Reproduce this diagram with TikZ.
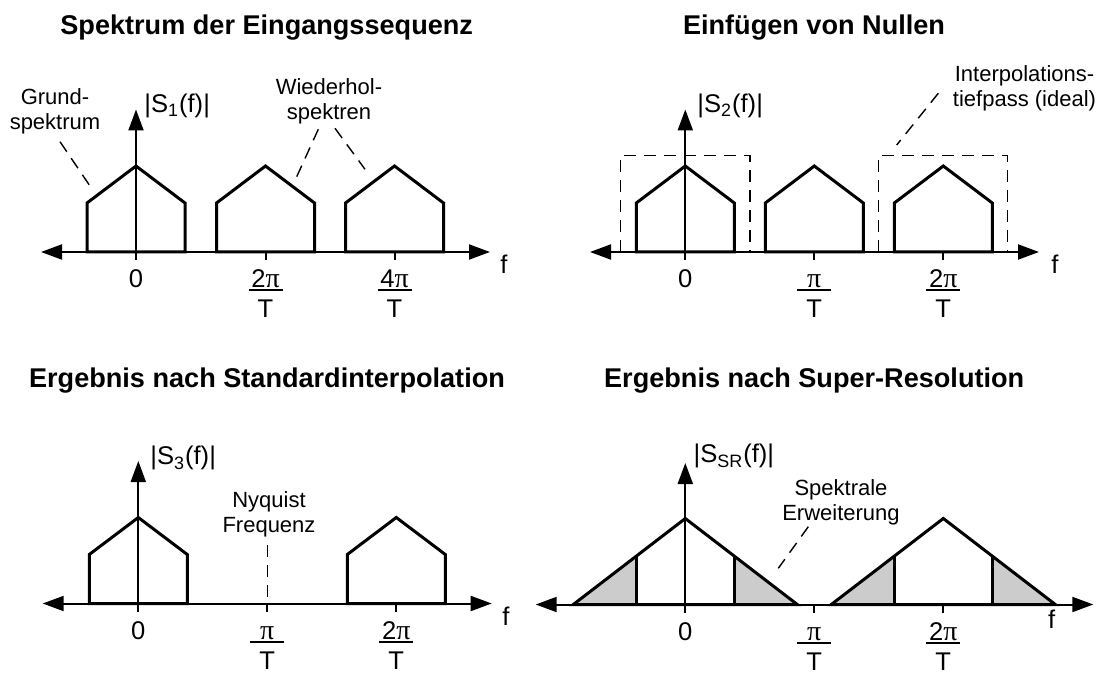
\documentclass[tikz,border=0pt]{standalone}
\usepackage{fontspec}
\setmainfont{Liberation Sans}
\newfontfamily\grk{Liberation Serif}
\usetikzlibrary{arrows.meta}

\newcommand{\lblfont}{\fontsize{11}{12.5}\selectfont}
\newcommand{\axfont}{\fontsize{12.8}{15}\selectfont}
\newcommand{\ttlfont}{\fontsize{13.55}{16}\selectfont\bfseries}
\newcommand{\pii}{{\grk\fontsize{14}{15}\selectfont π}}

% spectrum in house form: #1 centre, #2 axis
\newcommand{\haus}[2]{\draw[spec] (#1-49,#2) -- (#1-49,#2-49) -- (#1,#2-86) -- (#1+49,#2-49) -- (#1+49,#2) -- cycle;}

% widened spectrum: #1 centre, #2 axis
\newcommand{\dreieck}[2]{%
  \fill[grau] (#1-112,#2) -- (#1-49,#2-48.4) -- (#1-49,#2) -- cycle;
  \fill[grau] (#1+112,#2) -- (#1+49,#2-48.4) -- (#1+49,#2) -- cycle;
  \draw[spec] (#1-112,#2) -- (#1,#2-86) -- (#1+112,#2) -- cycle;
  \draw[spec] (#1-49,#2) -- (#1-49,#2-48.4) (#1+49,#2) -- (#1+49,#2-48.4);}

% axis label as fraction: #1 name, #2 x, #3 axis, #4 numerator
\newcommand{\bruch}[4]{%
  \node[axlbl] (#1num) at (#2,#3+36) {#4};
  \node[axlbl] (#1den) at (#2,#3+66) {T};
  \draw[line width=1pt] (#2-17,#3+38.5) -- (#2+17,#3+38.5);}

\begin{document}
\begin{tikzpicture}[x=0.5pt, y=-0.5pt,
    >={Triangle[length=10.5pt,width=7.5pt]},
    achse/.style={line width=1pt},
    spec/.style={line width=1.5pt, line join=miter},
    grau/.style={fill=gray!40},
    lead/.style={line width=0.7pt, dash pattern=on 6pt off 4pt},
    lbl/.style={font=\lblfont, align=center, inner sep=0pt, anchor=base},
    axlbl/.style={font=\axfont, inner sep=0pt, anchor=base},
    ttl/.style={font=\ttlfont, inner sep=0pt, anchor=base}
]
    \useasboundingbox (0,0) rectangle (1108,673);

    % Spektrum der Eingangssequenz
    \node[ttl] (t1) at (266.7,34.3) {Spektrum der Eingangssequenz};
    \draw[achse,<->] (41,252) -- (490,252);
    \haus{136}{252} \haus{265.5}{252} \haus{394.5}{252}
    \draw[achse,->] (136,260) -- (136,109.5);
    \draw[achse] (265.5,252) -- (265.5,260) (394.5,252) -- (394.5,260);
    \node[axlbl, anchor=base west] (s1) at (144,112.7) {|S\textsubscript{1}(f)|};
    \node[axlbl] (f1) at (504,273.5) {f};
    \node[axlbl] (n1) at (136,288) {0};
    \bruch{a}{265.5}{252}{2\pii}
    \bruch{b}{394.5}{252}{4\pii}
    \node[lbl] (grund) at (55,130) {Grund-\\spektrum};
    \node[lbl] (wdh) at (329,120) {Wiederhol-\\spektren};
    \coordinate (g1) at (60,141.7);    \coordinate (g2) at (89.3,185);
    \coordinate (w1) at (318.3,129.3); \coordinate (w2) at (296.7,176.7);
    \coordinate (w3) at (335,128.3);   \coordinate (w4) at (365,169.3);
    \draw[lead] (g1) -- (g2);
    \draw[lead] (w1) -- (w2);
    \draw[lead] (w3) -- (w4);

    % Einfuegen von Nullen
    \node[ttl] (t2) at (814,34.3) {Einfügen von Nullen};
    \draw[achse,<->] (590,252) -- (1039,252);
    \draw[lead] (620.7,252) -- (620.7,155.7) -- (750,155.7) -- (750,252);
    \draw[lead] (878.3,252) -- (878.3,155.7) -- (1007.7,155.7) -- (1007.7,252);
    \haus{685.3}{252} \haus{814.3}{252} \haus{943.3}{252}
    \draw[achse,->] (685.3,260) -- (685.3,109.5);
    \draw[achse] (814.3,252) -- (814.3,260) (943.3,252) -- (943.3,260);
    \node[axlbl, anchor=base west] (s2) at (697,112.7) {|S\textsubscript{2}(f)|};
    \node[axlbl] (f2) at (1055,273.5) {f};
    \node[axlbl] (n2) at (685.3,288) {0};
    \bruch{c}{814.3}{252}{\pii}
    \bruch{d}{943.3}{252}{2\pii}
    \node[lbl] (ip) at (1024.5,106.7) {Interpolations-\\tiefpass (ideal)};
    \coordinate (i1) at (938.3,93.3); \coordinate (i2) at (896.7,145);
    \draw[lead] (i1) -- (i2);

    % Ergebnis nach Standardinterpolation
    \node[ttl] (t3) at (267,387.3) {Ergebnis nach Standardinterpolation};
    \draw[achse,<->] (42.7,603.5) -- (491.7,603.5);
    \haus{138.3}{603.5} \haus{396.3}{603.5}
    \draw[achse,->] (138.3,611.5) -- (138.3,461);
    \draw[achse] (267.3,603.5) -- (267.3,611.5) (396.3,603.5) -- (396.3,611.5);
    \node[lbl] (nyq) at (269,532.3) {Nyquist\\Frequenz};
    \coordinate (q1) at (267.3,545); \coordinate (q2) at (267.3,603.5);
    \draw[lead] (q1) -- (q2);
    \node[axlbl, anchor=base west] (s3) at (150,465) {|S\textsubscript{3}(f)|};
    \node[axlbl] (f3) at (506,625) {f};
    \node[axlbl] (n3) at (138.3,639.5) {0};
    \bruch{e}{267.3}{603.5}{\pii}
    \bruch{h}{396.3}{603.5}{2\pii}

    % Ergebnis nach Super-Resolution
    \node[ttl] (t4) at (814.2,387.3) {Ergebnis nach Super-Resolution};
    \draw[achse,<->] (535.7,604.5) -- (1093.3,604.5);
    \dreieck{685.3}{604.5} \dreieck{943.3}{604.5}
    \draw[achse,->] (685.3,612.5) -- (685.3,463);
    \draw[achse] (814.3,604.5) -- (814.3,612.5) (943.3,604.5) -- (943.3,612.5);
    \node[lbl] (erw) at (841,520.5) {Spektrale\\Erweiterung};
    \coordinate (e1) at (808.3,526.7); \coordinate (e2) at (778.3,568.3);
    \draw[lead] (e1) -- (e2);
    \node[axlbl, anchor=base west] (s4) at (693.3,463) {|S\textsubscript{SR}(f)|};
    \node[axlbl] (f4) at (1051.7,628) {f};
    \node[axlbl] (n4) at (685.3,640.5) {0};
    \bruch{k}{814.3}{604.5}{\pii}
    \bruch{m}{943.3}{604.5}{2\pii}
\end{tikzpicture}
\end{document}
